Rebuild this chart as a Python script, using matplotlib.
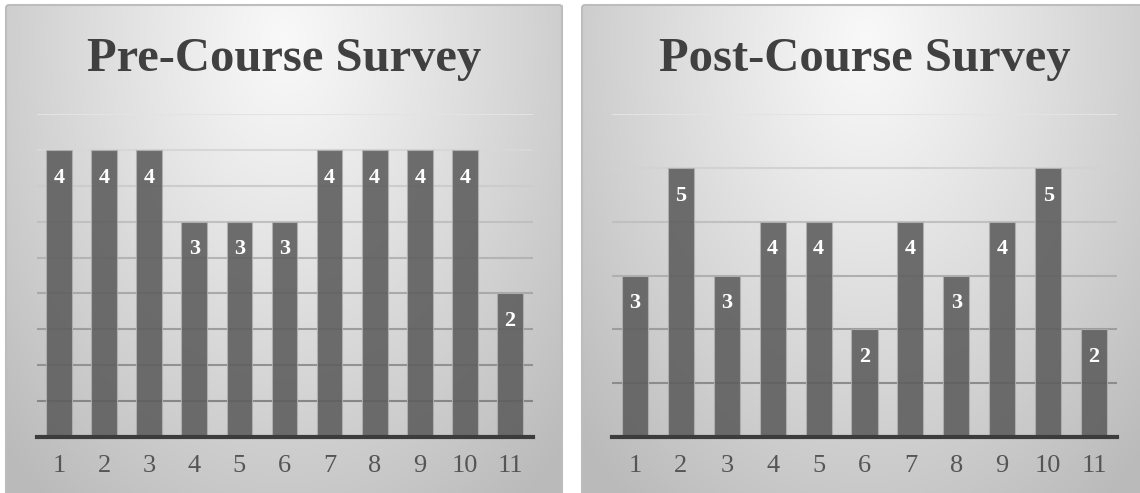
import numpy as np
import matplotlib
matplotlib.use("Agg")
import matplotlib.pyplot as plt
from matplotlib.patches import FancyBboxPatch

# ---- data ----
questions = ["1", "2", "3", "4", "5", "6", "7", "8", "9", "10", "11"]
pre_values = [4, 4, 4, 3, 3, 3, 4, 4, 4, 4, 2]
post_values = [3, 5, 3, 4, 4, 2, 4, 3, 4, 5, 2]
pre_title = "Pre-Course Survey"
post_title = "Post-Course Survey"
pre_ymax, pre_step = 4.5, 0.5
post_ymax, post_step = 6, 1

W, H = 1140, 493
fig = plt.figure(figsize=(W / 100, H / 100), dpi=100)
fig.patch.set_facecolor("white")

# ---- background gradient panels ----
bg = fig.add_axes([0, 0, 1, 1], zorder=0)
bg.set_xlim(0, W)
bg.set_ylim(H, 0)
bg.axis("off")
img = np.ones((H, W), dtype=float)
yy, xx = np.mgrid[0:H, 0:W]
panels = [(6, 562), (582, 1150)]
for (x0, x1) in panels:
    cx = (x0 + x1) / 2.0
    cy = 40.0
    d = np.sqrt(((xx - cx) / 330.0) ** 2 + ((yy - cy) / 480.0) ** 2)
    val = 0.975 - 0.20 * np.clip(d, 0, 1.2) ** 1.1
    mask = (xx >= x0) & (xx <= x1) & (yy >= 5)
    img[mask] = val[mask]
bg.imshow(np.dstack([img, img, img]), extent=(0, W, H, 0), aspect="auto",
          interpolation="bilinear")
for (x0, x1) in panels:
    bg.add_patch(FancyBboxPatch((x0, 5), x1 - x0, H + 20,
                                boxstyle="round,pad=0,rounding_size=3",
                                fill=False, edgecolor="#bdbdbd", linewidth=1.5))


def draw(ax_rect, values, ymax, step, title, title_cx):
    ax = fig.add_axes(ax_rect, zorder=2)
    ax.patch.set_alpha(0)
    x = np.arange(len(values))
    # gridlines with graded shade
    levels = np.arange(step, ymax + step / 2, step)
    for lv in levels:
        f = lv / ymax
        g = 0.48 + 0.41 * f
        ax.axhline(lv, color=(g, g, g), linewidth=1.5, zorder=1)
    ax.bar(x, values, width=0.57, color="#5f5f5f", alpha=0.9,
           edgecolor="#b0b0b0", linewidth=0.8, zorder=2)
    for xi, v in zip(x, values):
        ax.annotate(str(v), (xi, v), xytext=(0, -20), textcoords="offset points",
                    ha="center", va="center", color="white", fontsize=16,
                    fontweight="bold", family="Liberation Serif", zorder=3)
    ax.set_xlim(-0.5, len(values) - 0.5)
    ax.set_ylim(0, ymax)
    ax.set_xticks(x)
    ax.set_xticklabels(questions, family="Liberation Serif", fontsize=19,
                       color="#555555")
    ax.tick_params(axis="x", length=0, pad=13)
    ax.set_yticks([])
    for s in ["top", "left", "right"]:
        ax.spines[s].set_visible(False)
    ax.spines["bottom"].set_color("#3c3c3c")
    ax.spines["bottom"].set_linewidth(3)
    ax.spines["bottom"].set_zorder(4)
    fig.text(title_cx / W, 1 - 71 / H, title, ha="center", va="baseline",
             family="Liberation Serif", fontweight="bold", fontsize=35,
             color="#404040", zorder=5)
    return ax


bottom = (H - 437) / H
height = (437 - 114) / H
draw([36.5 / W, bottom, 496 / W, height], pre_values, pre_ymax, pre_step,
     pre_title, 284)
draw([612 / W, bottom, 505 / W, height], post_values, post_ymax, post_step,
     post_title, 864.5)

fig.savefig("out.png", dpi=100, facecolor="white")
